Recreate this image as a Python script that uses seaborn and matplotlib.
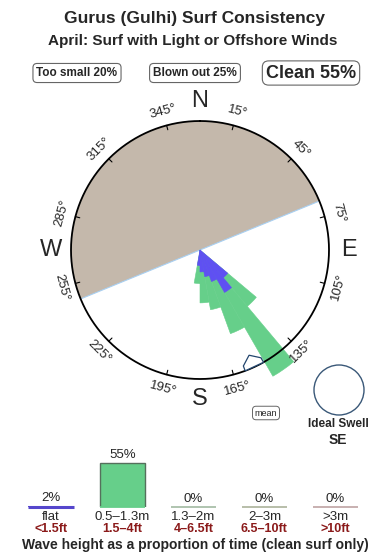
import numpy as np
import pandas as pd
import matplotlib
matplotlib.use("Agg")
import matplotlib.pyplot as plt
from matplotlib.patches import Ellipse
import seaborn as sns

# ---------------- data ----------------
title = "Gurus (Gulhi) Surf Consistency"
subtitle = "April: Surf with Light or Offshore Winds"
summary_labels = ["Too small 20%", "Blown out 25%", "Clean 55%"]

rose_dirs = [185, 175, 165, 155, 145, 135]            # swell direction bins (deg)
rose_clean = [0.26, 0.41, 0.47, 0.69, 1.13, 0.57]     # clean surf (green), radius fraction
rose_flat = [0.12, 0.17, 0.21, 0.26, 0.38, 0.28]      # flat (blue), radius fraction
blown_from, blown_to = 247.7, 427.7                   # blown-out wind sector (deg)
mean_dir = 155
tick_degs = [15, 45, 75, 105, 135, 165, 195, 225, 255, 285, 315, 345]
cardinals = ["N", "E", "S", "W"]
cardinal_degs = [0, 90, 180, 270]

cats = ["flat", "0.5–1.3m", "1.3–2m", "2–3m", ">3m"]
cats_ft = ["<1.5ft", "1.5–4ft", "4–6.5ft", "6.5–10ft", ">10ft"]
pcts = [2, 55, 0, 0, 0]
bar_colors = ["#5546cc", "#66cf8a", "#a9bfa9", "#b2b9a2", "#c4aaaa"]

# ---------------- style ----------------
sns.set_style("white")
plt.rcParams["font.family"] = ["Liberation Sans", "DejaVu Sans"]

W, H = 390, 560
fig = plt.figure(figsize=(W / 100, H / 100), dpi=100)


def fx(x):
    return x / W


def fy(y):
    return 1 - y / H


# titles
fig.text(fx(195), fy(19), title, ha="center", va="center", fontsize=12.5, fontweight="bold")
fig.text(fx(193), fy(41), subtitle, ha="center", va="center", fontsize=11, fontweight="bold")

box = dict(boxstyle="round,pad=0.3,rounding_size=0.35", fc="white", ec="#666666", lw=0.8)
fig.text(fx(77), fy(73), summary_labels[0], ha="center", va="center", fontsize=8.5, fontweight="bold", bbox=box)
fig.text(fx(195), fy(73), summary_labels[1], ha="center", va="center", fontsize=8.5, fontweight="bold", bbox=box)
box2 = dict(boxstyle="round,pad=0.2,rounding_size=0.35", fc="white", ec="#666666", lw=0.8)
fig.text(fx(311), fy(73), summary_labels[2], ha="center", va="center", fontsize=13, fontweight="bold", bbox=box2)

# ---------------- compass rose ----------------
cx, cy, R = 200, 250, 129
rmax = 1.25
rad = R * rmax
pax = fig.add_axes([fx(cx - rad), fy(cy + rad), 2 * rad / W, 2 * rad / H], projection="polar")
pax.set_theta_zero_location("N")
pax.set_theta_direction(-1)
pax.set_ylim(0, rmax)
pax.axis("off")

d2r = np.deg2rad
# blown-out sector
pax.bar(d2r((blown_from + blown_to) / 2), 1.0, width=d2r(blown_to - blown_from),
        color="#c4b8ab", edgecolor="none", linewidth=0, zorder=1)
pax.plot([d2r(blown_from), d2r(blown_from), d2r(blown_to), d2r(blown_to)], [1, 0, 0, 1],
         color="#a9d0f2", lw=0.8, zorder=2)

# swell bars
pax.bar(d2r(np.array(rose_dirs)), rose_clean, width=d2r(10), color="#66cf8a",
        edgecolor="#66cf8a", linewidth=0.4, zorder=3, clip_on=False)
pax.bar(d2r(np.array(rose_dirs)), rose_flat, width=d2r(10), color="#5f50f2",
        edgecolor="#5f50f2", linewidth=0.4, zorder=4, clip_on=False)

# outer circle
th = np.linspace(0, 2 * np.pi, 721)
pax.plot(th, np.ones_like(th), color="black", lw=1.3, zorder=5)

# ticks and degree labels
for b in tick_degs:
    pax.plot([d2r(b), d2r(b)], [0.965, 1.0], color="black", lw=0.8, zorder=5)
    rot = -b if (b < 90 or b > 270) else 180 - b
    pax.text(d2r(b), 1.11, f"{b}°", rotation=rot, rotation_mode="anchor",
             ha="center", va="center", fontsize=9.5, clip_on=False)

for lab, b in zip(cardinals, cardinal_degs):
    pax.text(d2r(b), 1.155, lab, ha="center", va="center", fontsize=17, clip_on=False)

# mean direction marker (house-shaped arrow)
mth = d2r(np.array([mean_dir + 4.5, mean_dir + 4.5, mean_dir, mean_dir - 4.5, mean_dir - 4.5]))
mr = np.array([1.0, 0.96, 0.9, 0.96, 1.0])
pax.fill(mth, mr, facecolor="white", edgecolor="#23466e", lw=0.9, zorder=6)

box3 = dict(boxstyle="round,pad=0.25,rounding_size=0.4", fc="white", ec="#666666", lw=0.7)
fig.text(fx(266), fy(413), "mean", ha="center", va="center", fontsize=6.5, bbox=box3)

# ideal swell indicator
ell = Ellipse((fx(339), fy(390)), 50 / W, 50 / H, transform=fig.transFigure, fill=False,
              ec="#3a5878", lw=1.0)
fig.add_artist(ell)
fig.text(fx(338), fy(424), "Ideal Swell", ha="center", va="center", fontsize=8.5, fontweight="bold")
fig.text(fx(338), fy(440), "SE", ha="center", va="center", fontsize=10, fontweight="bold")

# ---------------- wave height bars ----------------
base_y = 507.3
px_per_unit = 0.8
bax = fig.add_axes([fx(15.7), fy(base_y), 355.3 / W, 70 * px_per_unit / H])
df = pd.DataFrame({"cat": cats, "pct": pcts})
sns.barplot(data=df, x="cat", y="pct", hue="cat", palette=bar_colors, width=0.64,
            saturation=1, ax=bax, legend=False, order=cats, hue_order=cats, linewidth=0)
bax.set_xlim(-0.5, 4.5)
bax.set_ylim(0, 70)
bax.axis("off")
for p in bax.patches:
    if p.get_height() > 10:
        p.set_edgecolor("#55705c")
        p.set_linewidth(1.0)
for i, (c, v, col) in enumerate(zip(cats, pcts, bar_colors)):
    lw = 2.2 if i == 0 else 1.3
    bax.plot([i - 0.32, i + 0.32], [0, 0], color=col, lw=lw, solid_capstyle="butt", clip_on=False)
    bax.text(i, v + 10, f"{v}%", ha="center", va="center", fontsize=9.5, clip_on=False)
    bax.text(i, -12.5, c, ha="center", va="center", fontsize=9.5, clip_on=False)
    bax.text(i, -27.5, cats_ft[i], ha="center", va="center", fontsize=9, fontweight="bold",
             color="#8b1a1a", clip_on=False)

fig.text(fx(195), fy(545), "Wave height as a proportion of time (clean surf only)",
         ha="center", va="center", fontsize=10, fontweight="bold")

fig.savefig("out.png", dpi=100)
